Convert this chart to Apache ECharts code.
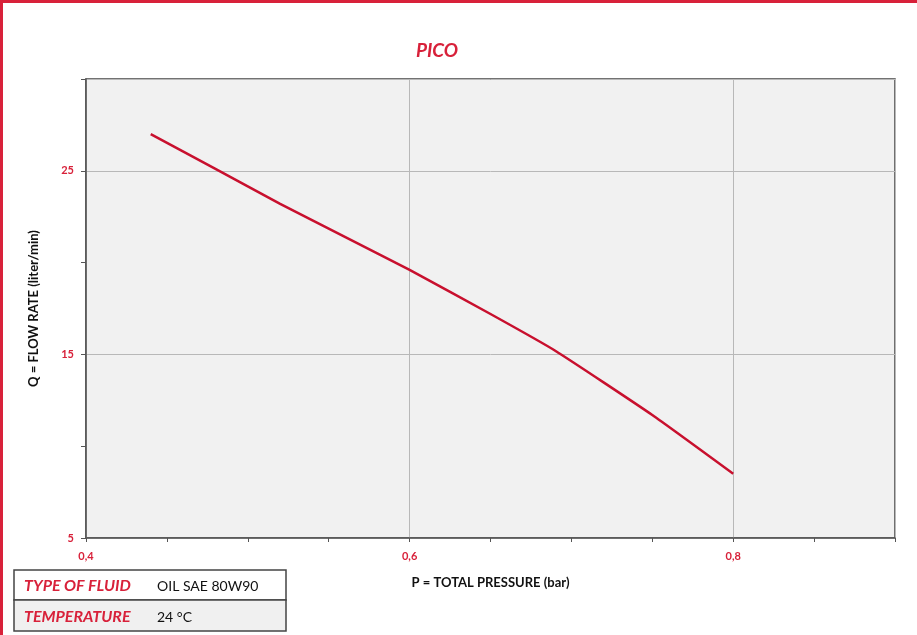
<!DOCTYPE html>
<html>
<head>
<meta charset="utf-8">
<script src="https://cdn.jsdelivr.net/npm/echarts@6/dist/echarts.min.js"></script>
<style>
html,body{margin:0;padding:0;background:#fff;}
#wrap{position:absolute;left:0;top:0;width:917px;height:635px;box-sizing:border-box;border-top:3px solid #d8213a;border-left:3px solid #d8213a;}
#chart{position:absolute;left:0;top:0;width:917px;height:635px;}
</style>
</head>
<body>
<div id="wrap"></div>
<div id="chart"></div>
<script>
const titleText = 'PICO';
const xName = 'P = TOTAL PRESSURE (bar)';
const yName = 'Q = FLOW RATE (liter/min)';
const pressure = [0.44, 0.48, 0.52, 0.56, 0.60, 0.65, 0.69, 0.75, 0.80];
const flowRate = [27.0, 25.1, 23.2, 21.4, 19.6, 17.2, 15.2, 11.7, 8.5];
const xTickLabels = [0.4, 0.6, 0.8];
const yTickLabels = [5, 15, 25];
const infoLabels = ['TYPE OF FLUID', 'TEMPERATURE'];
const infoValues = ['OIL SAE 80W90', '24 °C'];

const red = '#d8213a';
const chart = echarts.init(document.getElementById('chart'));
const fmtX = v => xTickLabels.some(t => Math.abs(t - v) < 1e-6) ? v.toFixed(1).replace('.', ',') : '';
const fmtY = v => yTickLabels.some(t => Math.abs(t - v) < 1e-6) ? String(v) : '';

const option = {
  animation: false,
  title: {
    text: titleText, left: 432, top: 36, textAlign: 'center',
    textStyle: {color: red, fontSize: 19, fontWeight: 'bold', fontStyle: 'italic', fontFamily: 'Lato'}
  },
  grid: {left: 86, right: 22, top: 79, bottom: 97, show: true, backgroundColor: '#f1f1f1', borderColor: '#444', borderWidth: 1.5},
  xAxis: [{
    type: 'value', min: 0.4, max: 0.9, interval: 0.05,
    name: xName, nameLocation: 'middle', nameGap: 38,
    nameTextStyle: {color: '#111', fontSize: 13, fontFamily: 'Lato', fontWeight: 'bold'},
    axisLine: {show: true, lineStyle: {color: '#555', width: 1.5}},
    axisTick: {show: true, inside: false, length: 4, lineStyle: {color: '#555'}},
    axisLabel: {formatter: fmtX, color: red, fontSize: 11, fontWeight: 'bold', fontFamily: 'Lato', margin: 13},
    splitLine: {show: false}
  }, {
    type: 'value', min: 0.4, max: 0.9, interval: 0.2, position: 'bottom',
    axisLine: {show: false}, axisTick: {show: false}, axisLabel: {show: false},
    splitLine: {show: true, lineStyle: {color: '#b8b8b8', width: 1}}
  }],
  yAxis: [{
    type: 'value', min: 5, max: 30, interval: 5,
    name: yName, nameLocation: 'middle', nameGap: 46, nameRotate: 90,
    nameTextStyle: {color: '#111', fontSize: 13, fontFamily: 'Lato', fontWeight: 'bold'},
    axisLine: {show: true, lineStyle: {color: '#555', width: 1.5}},
    axisTick: {show: true, length: 5, lineStyle: {color: '#555'}},
    axisLabel: {formatter: fmtY, color: red, fontSize: 11, fontWeight: 'bold', fontFamily: 'Lato', margin: 12},
    splitLine: {show: false}
  }, {
    type: 'value', min: 5, max: 30, interval: 10, position: 'left',
    axisLine: {show: false}, axisTick: {show: false}, axisLabel: {show: false},
    splitLine: {show: true, lineStyle: {color: '#b8b8b8', width: 1}}
  }],
  series: [{
    type: 'line', xAxisIndex: 0, yAxisIndex: 0,
    data: pressure.map((p, i) => [p, flowRate[i]]),
    symbol: 'none', smooth: 0.15,
    lineStyle: {color: '#c8102e', width: 2.5}
  }],
  graphic: [
    {type: 'rect', shape: {x: 14, y: 570, width: 272, height: 30}, style: {fill: '#fff', stroke: '#444', lineWidth: 1.5}},
    {type: 'rect', shape: {x: 14, y: 600, width: 272, height: 31}, style: {fill: '#f0f0f0', stroke: '#444', lineWidth: 1.5}},
    {type: 'text', x: 24, y: 586, style: {text: infoLabels[0], fill: red, font: 'italic bold 16px Lato', verticalAlign: 'middle'}},
    {type: 'text', x: 157, y: 586, style: {text: infoValues[0], fill: '#111', font: '14px Lato', verticalAlign: 'middle'}},
    {type: 'text', x: 24, y: 617, style: {text: infoLabels[1], fill: red, font: 'italic bold 16px Lato', verticalAlign: 'middle'}},
    {type: 'text', x: 157, y: 617, style: {text: infoValues[1], fill: '#111', font: '14px Lato', verticalAlign: 'middle'}}
  ]
};
chart.setOption(option);
</script>
</body>
</html>
